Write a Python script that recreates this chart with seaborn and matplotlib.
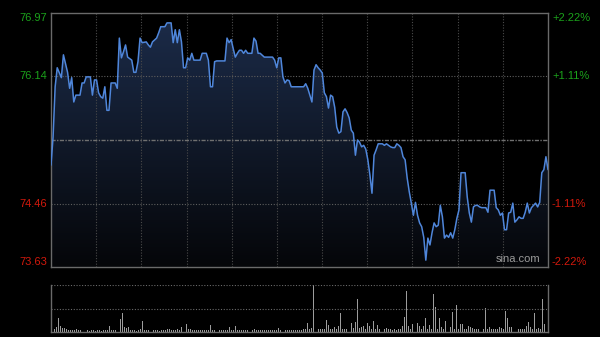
import numpy as np
import pandas as pd
import matplotlib
matplotlib.use("Agg")
import matplotlib.pyplot as plt
import seaborn as sns
from matplotlib.colors import LinearSegmentedColormap

# ---------------- data ----------------
prev_close = 75.30
minutes = [0, 1, 2, 3, 5, 6, 8, 9, 10, 11, 12, 14, 15, 16, 17, 19, 20, 21, 22, 23, 24, 25, 26, 27, 28, 29,
           31, 32, 33, 34, 35, 36, 37, 38, 39, 40, 41, 42, 43, 44, 46, 47, 48, 49, 51, 52, 53, 55, 56, 58,
           59, 60, 61, 62, 63, 64, 65, 66, 67, 68, 69, 72, 73, 75, 76, 77, 78, 79, 80, 84, 85, 86, 87, 88,
           89, 90, 91, 92, 93, 94, 95, 97, 98, 99, 100, 101, 103, 107, 108, 109, 110, 111, 112, 113, 114,
           115, 116, 120, 122, 123, 124, 126, 127, 128, 129, 130, 131, 132, 133, 134, 135, 136, 137, 138,
           139, 140, 141, 142, 143, 144, 145, 146, 147, 148, 149, 150, 151, 152, 153, 154, 155, 156, 157,
           158, 160, 161, 162, 164, 165, 166, 167, 168, 169, 170, 171, 172, 173, 174, 175, 176, 177, 178,
           179, 180, 181, 182, 183, 184, 185, 186, 187, 188, 189, 190, 191, 192, 193, 194, 195, 196, 197,
           198, 200, 201, 202, 203, 204, 205, 206, 207, 208, 210, 211, 212, 214, 215, 216, 217, 218, 219,
           220, 221, 222, 223, 224, 225, 226, 227, 228, 229, 230, 231, 232, 234, 235, 236, 237, 238, 239, 240]
prices = [74.97, 75.34, 76.00, 76.25, 76.12, 76.42, 76.19, 75.98, 76.12, 75.80, 75.89, 75.89, 76.05, 76.05,
          76.13, 76.13, 75.89, 76.09, 76.09, 75.92, 75.87, 75.85, 76.00, 75.69, 75.69, 76.05,
          76.05, 75.98, 76.64, 76.38, 76.46, 76.55, 76.39, 76.37, 76.35, 76.19, 76.19, 76.33, 76.64, 76.58,
          76.59, 76.55, 76.52, 76.59, 76.64, 76.71, 76.79, 76.79, 76.84, 76.84,
          76.58, 76.75, 76.58, 76.75, 76.59, 76.25, 76.25, 76.38, 76.35, 76.44, 76.35, 76.35, 76.44, 76.44,
          76.35, 76.00, 76.00, 76.33, 76.34, 76.34, 76.64, 76.58, 76.62, 76.50,
          76.39, 76.44, 76.48, 76.48, 76.44, 76.48, 76.44, 76.44, 76.64, 76.60, 76.44, 76.44, 76.39, 76.39,
          76.35, 76.25, 76.38, 76.38, 76.13, 76.05, 76.09,
          76.08, 76.00, 76.00, 76.00, 76.04, 75.98, 75.80, 76.22, 76.29, 76.25, 76.22, 76.18, 75.92, 75.87,
          75.72, 75.89, 75.87, 75.73, 75.47,
          75.39, 75.41, 75.67, 75.71, 75.66, 75.59, 75.43, 75.39, 75.10, 75.30, 75.27, 75.21, 75.23, 75.18,
          75.04, 74.84, 74.60, 75.10, 75.17,
          75.25, 75.25, 75.23, 75.25, 75.21, 75.20, 75.20, 75.25, 75.23, 75.20, 75.08, 75.04, 74.80, 74.62,
          74.47, 74.31, 74.48, 74.31, 74.21,
          74.16, 74.02, 73.72, 74.01, 73.92, 74.08, 74.21, 74.16, 74.18, 74.44, 74.29, 74.01, 74.05, 74.02,
          74.08, 74.01, 74.12, 74.27, 74.38,
          74.87, 74.87, 74.55, 74.34, 74.22, 74.42, 74.44, 74.44, 74.42, 74.41, 74.41, 74.35, 74.64, 74.64,
          74.41, 74.38, 74.31, 74.34, 74.12,
          74.12, 74.34, 74.35, 74.47, 74.22, 74.25, 74.29, 74.27, 74.27, 74.35, 74.47, 74.34, 74.41, 74.47,
          74.42, 74.48, 74.87, 74.91, 75.08, 74.91]

volumes = [4, 3, 5, 14, 6, 4, 4, 3, 2, 2,
           2, 2, 3, 2, 2, 6, 2, 2, 1, 2,
           2, 1, 2, 2, 1, 2, 2, 2, 6, 2,
           2, 2, 3, 13, 19, 5, 4, 5, 2, 2,
           2, 1, 2, 3, 11, 2, 2, 2, 8, 2,
           2, 2, 1, 2, 2, 2, 3, 3, 2, 2,
           2, 3, 2, 5, 6, 8, 3, 3, 2, 2,
           2, 2, 2, 2, 2, 2, 2, 7, 2, 2,
           2, 2, 2, 2, 2, 2, 5, 2, 2, 6,
           2, 2, 2, 2, 2, 2, 2, 2, 3, 2,
           2, 2, 2, 2, 2, 2, 2, 2, 2, 2,
           4, 2, 10, 2, 2, 2, 2, 2, 2, 2,
           2, 2, 3, 3, 9, 3, 4, 47, 30, 3,
           3, 3, 3, 12, 7, 3, 3, 5, 3, 6,
           19, 3, 3, 3, 3, 9, 4, 10, 33, 4,
           5, 6, 3, 9, 6, 3, 11, 3, 7, 3,
           3, 3, 4, 3, 3, 2, 3, 2, 3, 3,
           6, 15, 41, 6, 3, 8, 3, 9, 6, 3,
           6, 14, 3, 7, 3, 38, 25, 3, 14, 5,
           3, 11, 7, 5, 20, 3, 27, 3, 8, 8,
           3, 3, 6, 5, 4, 3, 3, 3, 3, 3,
           24, 3, 5, 3, 3, 3, 3, 5, 4, 3,
           21, 14, 5, 5, 6, 4, 3, 3, 3, 3,
           6, 10, 5, 3, 19, 3, 4, 3, 33, 8,
           27]
vol_minutes = list(range(len(volumes)))

left_ticks = [76.97, 76.14, 74.46, 73.63]
left_labels = ["76.97", "76.14", "74.46", "73.63"]
right_labels = ["+2.22%", "+1.11%", "-1.11%", "-2.22%"]
tick_colors = ["#1ba21b", "#1ba21b", "#d2190c", "#d2190c"]
y_min, y_max = 73.63, 76.97
n_minutes = 240
n_div = 11

# ---------------- style ----------------
sns.set_theme(style="dark")
plt.rcParams["font.family"] = ["Liberation Sans", "DejaVu Sans"]

fig = plt.figure(figsize=(6.0, 3.37), dpi=100, facecolor="black")
ax = fig.add_axes([51 / 600, 1 - 267 / 337, 497 / 600, 254 / 337])
axv = fig.add_axes([51 / 600, 1 - 332 / 337, 497 / 600, 47 / 337])

for a in (ax, axv):
    a.set_facecolor("black")
    a.grid(False)
    a.set_xticks([])
    a.set_yticks([])

# ---------------- price panel ----------------
df = pd.DataFrame({"minute": minutes, "price": prices})
ax.set_xlim(0, n_minutes)
ax.set_ylim(y_min, y_max)

fill = ax.fill_between(df["minute"], df["price"], y_min, facecolor="none", edgecolor="none")
grad = np.linspace(1, 0, 256).reshape(-1, 1)
cmap = LinearSegmentedColormap.from_list("g", ["#050609", "#1c2c4a"])
img = ax.imshow(grad, aspect="auto", cmap=cmap, extent=[0, n_minutes, y_min, y_max],
                origin="upper", zorder=1, interpolation="bicubic")
img.set_clip_path(fill.get_paths()[0], transform=ax.transData)

for i in range(1, n_div):
    ax.axvline(i * n_minutes / n_div, color="#4a4a4a", lw=0.8, ls=(0, (1, 1.5)), zorder=2)
for t in (left_ticks[1], left_ticks[2]):
    ax.axhline(t, color="#5e5e5e", lw=0.8, ls=(0, (1, 1.5)), zorder=2)
ax.axhline(prev_close, color="#707070", lw=1.0, ls=(0, (3, 1, 1, 1)), zorder=2)

sns.lineplot(data=df, x="minute", y="price", ax=ax, color="#4f86da", lw=1.1, zorder=3)
ax.set_xlabel("")
ax.set_ylabel("")
ax.set_xticks([])
ax.set_yticks([])

for s in ax.spines.values():
    s.set_visible(True)
    s.set_color("#6a6a6a")
    s.set_linewidth(1.0)

for t, lab, rlab, c in zip(left_ticks, left_labels, right_labels, tick_colors):
    va = "center"
    if t == y_max:
        va = "top"
    elif t == y_min:
        va = "bottom"
    ax.text(-0.008, t, lab, transform=ax.get_yaxis_transform(), ha="right", va=va,
            color=c, fontsize=8)
    ax.text(1.008, t, rlab, transform=ax.get_yaxis_transform(), ha="left", va=va,
            color=c, fontsize=8)

ax.text(0.985, 0.012, "sina.com", transform=ax.transAxes, ha="right", va="bottom",
        color="#9a9a9a", fontsize=8, zorder=4)

# ---------------- volume panel ----------------
dv = pd.DataFrame({"minute": vol_minutes, "volume": volumes})
sns.barplot(data=dv, x="minute", y="volume", native_scale=True, color="#9c9c9c",
            width=0.45, errorbar=None, ax=axv, linewidth=0, saturation=1)
axv.set_xlim(-0.5, n_minutes + 0.5)
vmax = max(volumes)
axv.set_ylim(0, vmax)
axv.axhline(vmax, color="#6a6a6a", lw=0.8, ls=(0, (1, 1.5)))
axv.axhline(vmax / 2, color="#6a6a6a", lw=0.8, ls=(0, (1, 1.5)))
axv.set_xlabel("")
axv.set_ylabel("")
axv.set_xticks([])
axv.set_yticks([])
for name, s in axv.spines.items():
    s.set_color("#6a6a6a")
    s.set_linewidth(1.0)
    s.set_visible(name != "top")

fig.savefig("out.png", dpi=100, facecolor="black")
